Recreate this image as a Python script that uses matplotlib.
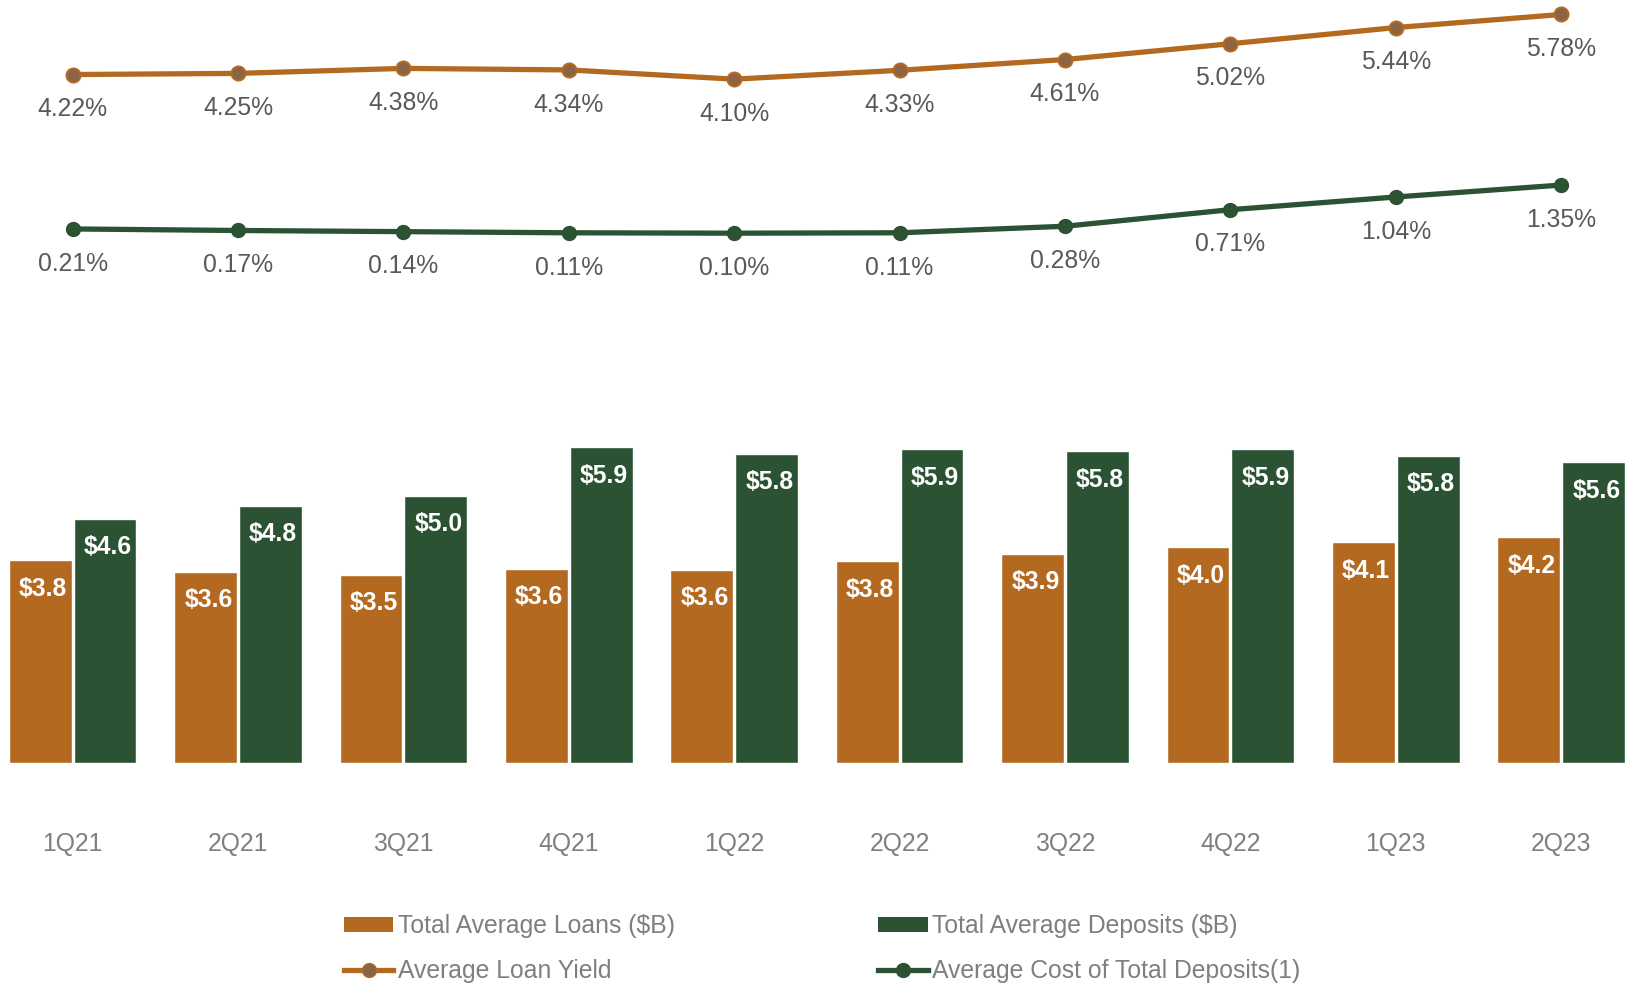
import numpy as np
import matplotlib
matplotlib.use("Agg")
from matplotlib import pyplot as plt
from matplotlib.lines import Line2D
from matplotlib.patches import Patch

plt.rcParams['font.family'] = ['Liberation Sans', 'DejaVu Sans']

quarters = ['1Q21', '2Q21', '3Q21', '4Q21', '1Q22', '2Q22', '3Q22', '4Q22', '1Q23', '2Q23']
avg_loans = [3.80, 3.58, 3.53, 3.64, 3.62, 3.78, 3.92, 4.04, 4.14, 4.23]
avg_deposits = [4.58, 4.82, 5.01, 5.92, 5.80, 5.88, 5.84, 5.88, 5.76, 5.64]
loan_yield = [4.22, 4.25, 4.38, 4.34, 4.10, 4.33, 4.61, 5.02, 5.44, 5.78]
cost_deposits = [0.21, 0.17, 0.14, 0.11, 0.10, 0.11, 0.28, 0.71, 1.04, 1.35]

ORANGE = '#B36A20'
GREEN = '#2A5233'
GREY = '#595959'
LIGHT_GREY = '#7F7F7F'

x = np.arange(len(quarters))
w = 0.38
off = 0.196

fig = plt.figure(figsize=(16.27, 9.84), dpi=100)
ax = fig.add_axes([0, 1 - 763 / 984, 1, 763 / 984])

#
#    Bars
#
bl = ax.bar(x - off, avg_loans, w, color=ORANGE, edgecolor='white', linewidth=1)
bd = ax.bar(x + off, avg_deposits, w, color=GREEN, edgecolor='white', linewidth=1)
for bars, vals in [(bl, avg_loans), (bd, avg_deposits)]:
    for b, v in zip(bars, vals):
        ax.annotate('$%.1f' % v, (b.get_x() + b.get_width() / 2, v),
                    xytext=(2, -20.5), textcoords='offset points',
                    ha='center', va='center', color='white',
                    fontsize=17.8, fontweight='bold')

ax.set_xlim(-0.439, 9.398)
ax.set_ylim(0, 14.3)
ax.set_xticks(x)
ax.set_xticklabels(quarters, fontsize=17.8, color=LIGHT_GREY)
ax.tick_params(axis='x', length=0, pad=49.5)
ax.set_yticks([])
for s in ax.spines.values():
    s.set_visible(False)

#
#    Lines on a second scale
#
ax2 = ax.twinx()
ax2.plot(x, loan_yield, color=ORANGE, lw=3.8, marker='o', ms=10,
         markerfacecolor='#8B6347', markeredgecolor=ORANGE, markeredgewidth=1.5,
         clip_on=False)
ax2.plot(x, cost_deposits, color=GREEN, lw=3.8, marker='o', ms=10,
         markerfacecolor=GREEN, markeredgecolor=GREEN, clip_on=False)
for vals in [loan_yield, cost_deposits]:
    for xi, v in zip(x, vals):
        ax2.annotate('%.2f%%' % v, (xi, v), xytext=(0, -25),
                     textcoords='offset points', ha='center', va='center',
                     fontsize=17.8, color=GREY)
ax2.set_ylim(-13.66, 6.156)
ax2.set_yticks([])
for s in ax2.spines.values():
    s.set_visible(False)

#
#    Legend
#
handles = [
    Patch(facecolor=ORANGE),
    Line2D([], [], color=ORANGE, lw=3.8, marker='o', ms=10,
           markerfacecolor='#8B6347', markeredgecolor=ORANGE),
    Patch(facecolor=GREEN),
    Line2D([], [], color=GREEN, lw=3.8, marker='o', ms=10,
           markerfacecolor=GREEN, markeredgecolor=GREEN),
]
labels = ['Total Average Loans ($B)', 'Average Loan Yield',
          'Total Average Deposits ($B)', 'Average Cost of Total Deposits(1)']
leg = fig.legend(handles, labels, ncol=2, loc='upper left',
                 bbox_to_anchor=(344 / 1627, 1 - 914 / 984),
                 frameon=False, fontsize=17.8, handlelength=2.0,
                 handleheight=0.55, handletextpad=0.2, columnspacing=8.2,
                 labelspacing=0.84, borderpad=0, borderaxespad=0)
for t in leg.get_texts():
    t.set_color(LIGHT_GREY)

fig.savefig('out.png', dpi=100)
